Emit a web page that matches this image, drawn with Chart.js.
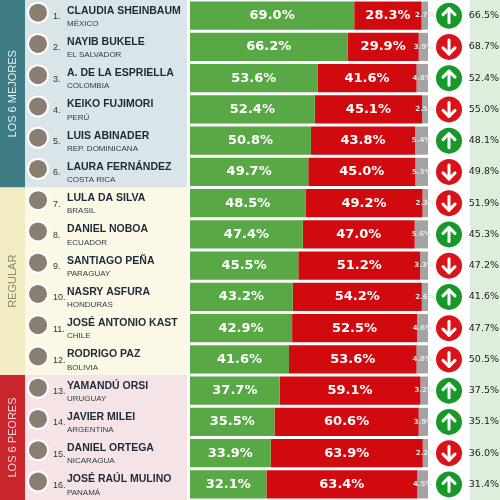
<!DOCTYPE html>
<html><head><meta charset="utf-8">
<script src="https://cdn.jsdelivr.net/npm/chart.js@4"></script>
<style>html,body{margin:0;padding:0;background:#fff}#wrap{width:500px;height:500px}</style>
</head><body><div id="wrap"><canvas id="c" width="500" height="500"></canvas></div>
<script>
const names = ['CLAUDIA SHEINBAUM','NAYIB BUKELE','A. DE LA ESPRIELLA','KEIKO FUJIMORI','LUIS ABINADER','LAURA FERNÁNDEZ','LULA DA SILVA','DANIEL NOBOA','SANTIAGO PEÑA','NASRY ASFURA','JOSÉ ANTONIO KAST','RODRIGO PAZ','YAMANDÚ ORSI','JAVIER MILEI','DANIEL ORTEGA','JOSÉ RAÚL MULINO'];
const countries = ['MÉXICO','EL SALVADOR','COLOMBIA','PERÚ','REP. DOMINICANA','COSTA RICA','BRASIL','ECUADOR','PARAGUAY','HONDURAS','CHILE','BOLIVIA','URUGUAY','ARGENTINA','NICARAGUA','PANAMÁ'];
const approve = [69.0,66.2,53.6,52.4,50.8,49.7,48.5,47.4,45.5,43.2,42.9,41.6,37.7,35.5,33.9,32.1];
const disapprove = [28.3,29.9,41.6,45.1,43.8,45.0,49.2,47.0,51.2,54.2,52.5,53.6,59.1,60.6,63.9,63.4];
const noAnswer = [2.7,3.9,4.8,2.5,5.4,5.3,2.3,5.6,3.3,2.6,4.6,4.8,3.2,3.9,2.2,4.5];
const trendUp = [true,false,true,false,true,false,false,true,false,true,false,false,true,true,false,true];
const previous = [66.5,68.7,52.4,55.0,48.1,49.8,51.9,45.3,47.2,41.6,47.7,50.5,37.5,35.1,36.0,31.4];
const groups = [
  {label:'LOS 6 MEJORES', from:0, to:5, strip:'#3d7c84', bg:'#d9e5e8', txt:'#e6f0f2'},
  {label:'REGULAR', from:6, to:11, strip:'#f2ecc4', bg:'#fbf8e6', txt:'#8a8a70'},
  {label:'LOS 6 PEORES', from:12, to:15, strip:'#c9252c', bg:'#f6e3e5', txt:'#f7d6d8'}
];

const deco = {
  id:'deco',
  beforeDraw(chart){
    const ctx = chart.ctx, y = chart.scales.y;
    const half = (y.getPixelForValue(1) - y.getPixelForValue(0))/2;
    groups.forEach(g=>{
      const top = g.from===0 ? 0 : y.getPixelForValue(g.from)-half;
      const bot = g.to===names.length-1 ? 500 : y.getPixelForValue(g.to)+half;
      ctx.fillStyle = g.bg; ctx.fillRect(25,top,162,bot-top);
      ctx.fillStyle = g.strip; ctx.fillRect(0,top,25,bot-top);
      ctx.save(); ctx.translate(13,(top+bot)/2); ctx.rotate(-Math.PI/2);
      ctx.fillStyle = g.txt; ctx.font = '11px "Liberation Sans"';
      ctx.textAlign='center'; ctx.textBaseline='middle'; ctx.fillText(g.label,0,0); ctx.restore();
    });
    ctx.fillStyle = '#ddeedd'; ctx.fillRect(470,0,30,500);
  },
  afterDraw(chart){
    const ctx = chart.ctx, y = chart.scales.y;
    names.forEach((n,i)=>{
      const cy = y.getPixelForValue(i);
      ctx.fillStyle='#fff'; ctx.beginPath(); ctx.arc(38,cy-3,11,0,Math.PI*2); ctx.fill();
      ctx.fillStyle='#8a7d72'; ctx.beginPath(); ctx.arc(38,cy-3,9,0,Math.PI*2); ctx.fill();
      ctx.fillStyle='#333'; ctx.font='9px "Liberation Sans"'; ctx.textAlign='left'; ctx.textBaseline='middle';
      ctx.fillText((i+1)+'.',53,cy+1);
      ctx.fillStyle='#1e2a3a'; ctx.font='bold 10.5px "Liberation Sans"'; ctx.fillText(n,67,cy-5);
      ctx.fillStyle='#2c3a4a'; ctx.font='8px "Liberation Sans"'; ctx.fillText(countries[i],67,cy+8);
      const ax=449, up=trendUp[i];
      ctx.fillStyle = up ? '#17992a' : '#d8141a';
      ctx.beginPath(); ctx.arc(ax,cy,13,0,Math.PI*2); ctx.fill();
      ctx.strokeStyle='#fff'; ctx.lineWidth=3; ctx.lineCap='round'; ctx.lineJoin='round';
      const d = up ? -1 : 1;
      ctx.beginPath(); ctx.moveTo(ax,cy-7*d); ctx.lineTo(ax,cy+7*d); ctx.stroke();
      ctx.beginPath(); ctx.moveTo(ax-6,cy+1*d); ctx.lineTo(ax,cy+7*d); ctx.lineTo(ax+6,cy+1*d); ctx.stroke();
      ctx.fillStyle='#222'; ctx.font='9.5px "DejaVu Sans"'; ctx.textAlign='right';
      ctx.fillText(previous[i].toFixed(1)+'%',499,cy);
    });
    const xs = chart.scales.x;
    names.forEach((n,i)=>{
      const cy = y.getPixelForValue(i);
      const a = xs.getPixelForValue(approve[i]), b = xs.getPixelForValue(approve[i]+disapprove[i]), e = xs.getPixelForValue(100);
      ctx.fillStyle='#fff'; ctx.textAlign='center'; ctx.textBaseline='middle';
      ctx.font='bold 13px "DejaVu Sans"';
      ctx.fillText(approve[i].toFixed(1)+'%',(xs.left+a)/2,cy);
      ctx.fillText(disapprove[i].toFixed(1)+'%',(a+b)/2,cy);
      ctx.font='bold 7px "DejaVu Sans"'; ctx.fillStyle='#e4e4e4';
      ctx.fillText(noAnswer[i].toFixed(1)+'%',(b+e)/2,cy);
    });
  }
};

new Chart(document.getElementById('c'), {
  type:'bar',
  data:{
    labels: names,
    datasets:[
      {label:'Aprueba', data:approve, backgroundColor:'#58a845'},
      {label:'Desaprueba', data:disapprove, backgroundColor:'#d00a0e'},
      {label:'NS/NC', data:noAnswer, backgroundColor:'#a3a3a3'}
    ]
  },
  options:{
    indexAxis:'y', responsive:false, animation:false,
    layout:{padding:{left:190,right:72,top:0,bottom:0}},
    datasets:{bar:{barPercentage:1,categoryPercentage:0.9}},
    plugins:{legend:{display:false},tooltip:{enabled:false}},
    scales:{
      x:{stacked:true,min:0,max:100,display:false},
      y:{stacked:true,display:false}
    }
  },
  plugins:[deco]
});
</script></body></html>
